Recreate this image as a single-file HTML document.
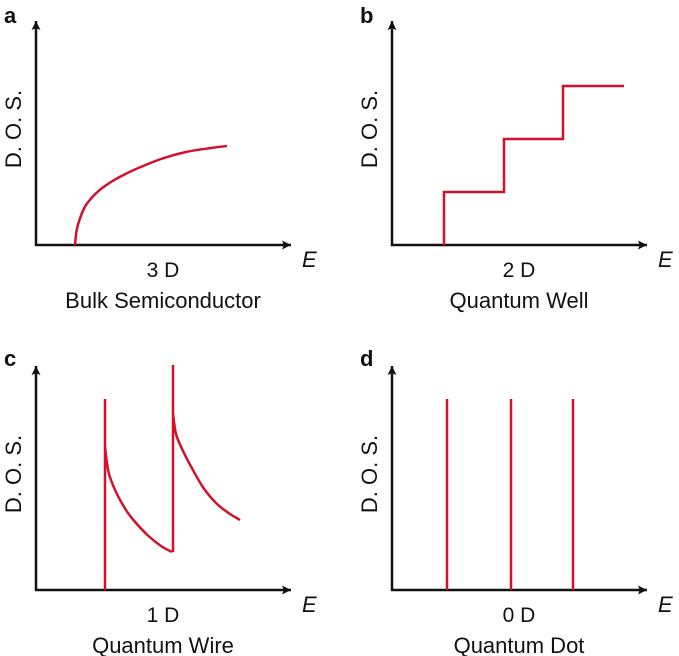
<!DOCTYPE html>
<html><head><meta charset="utf-8">
<style>
html,body{margin:0;padding:0;background:#fff;}
svg{display:block;}
text{font-family:"Liberation Sans",Arial,sans-serif;fill:#111;}
</style></head>
<body>
<svg id="fig" width="679" height="656" viewBox="0 0 679 656" xmlns="http://www.w3.org/2000/svg">
<defs>
<marker id="arr" viewBox="0 0 10 10" refX="10" refY="5" markerWidth="12" markerHeight="9" markerUnits="userSpaceOnUse" orient="auto">
<path d="M0,0 L10,5 L0,10 L2,5 Z" fill="#111"/>
</marker>
</defs>
</svg>
<script>
// Data (E in arbitrary units, DOS in arbitrary units)
const bulkE   = [1.56, 1.62, 1.75, 2.0, 2.5, 3.0, 3.5, 4.0, 5.0, 6.0, 7.0, 7.64];
const bulkDOS = [0, 0.7, 1.3, 2.0, 2.7, 3.15, 3.5, 3.8, 4.3, 4.65, 4.85, 4.95];
const wellEdges  = [2.08, 4.48, 6.84, 9.28];
const wellLevels = [2.65, 5.3, 7.95];
const wireOnsets = [2.76, 5.48];
const wirePeaks  = [9.55, 11.25];
const wire1E   = [2.76, 2.9, 3.2, 3.6, 4.0, 4.5, 5.0, 5.44];
const wire1DOS = [7.2, 5.9, 4.9, 4.0, 3.35, 2.7, 2.2, 1.9];
const wire2E   = [5.48, 5.6, 5.9, 6.3, 6.7, 7.2, 7.7, 8.16];
const wire2DOS = [8.85, 7.8, 6.9, 5.95, 5.1, 4.35, 3.85, 3.5];
const dotE   = [2.2, 4.76, 7.24];
const dotDOS = [9.55, 9.55, 9.55];

const NS = "http://www.w3.org/2000/svg";
const svg = document.getElementById('fig');
const RED = "#d3112b";
const SX = 25, SY = 20;
function mk(tag, attrs){const e=document.createElementNS(NS,tag);for(const k in attrs)e.setAttribute(k,attrs[k]);svg.appendChild(e);return e;}
function xs(p,E){return p.ox + E*SX;}
function ys(p,D){return p.oy - D*SY;}

const panels = [
 {ox:36, oy:245, letter:"a", lx:4, ly:23, dim:"3 D", title:"Bulk Semiconductor", name:"bulk"},
 {ox:392, oy:245, letter:"b", lx:360, ly:23, dim:"2 D", title:"Quantum Well", name:"well"},
 {ox:36, oy:590, letter:"c", lx:4, ly:366, dim:"1 D", title:"Quantum Wire", name:"wire"},
 {ox:392, oy:590, letter:"d", lx:360, ly:366, dim:"0 D", title:"Quantum Dot", name:"dot"}
];

panels.forEach(p=>{
  let el;
  el = mk('text',{x:p.lx,y:p.ly,'font-size':22,'font-weight':'bold'}); el.textContent=p.letter;
  
  
  el = mk('line',{x1:p.ox,y1:p.oy+1,x2:p.ox,y2:p.oy-224,stroke:'#111','stroke-width':2.5,'marker-end':'url(#arr)'});
  
  
  el = mk('line',{x1:p.ox-1,y1:p.oy,x2:p.ox+255,y2:p.oy,stroke:'#111','stroke-width':2.5,'marker-end':'url(#arr)'});
  
  
  const cy = p.oy-116, cx = p.ox-21;
  el = mk('text',{x:cx,y:cy,'font-size':22,'text-anchor':'middle',transform:`rotate(-90 ${cx} ${cy})`,'dominant-baseline':'middle'}); el.textContent="D. O. S.";
  
  
  el = mk('text',{x:p.ox+266,y:p.oy+22,'font-size':22,'font-style':'italic'}); el.textContent="E";
  
  
  el = mk('text',{x:p.ox+127,y:p.oy+32,'font-size':21,'text-anchor':'middle'}); el.textContent=p.dim;
  
  
  el = mk('text',{x:p.ox+127,y:p.oy+63,'font-size':22,'text-anchor':'middle'}); el.textContent=p.title;
  
  
});

function pts(p,Es,Ds){return Es.map((E,i)=>[xs(p,E),ys(p,Ds[i])]);}
function smooth(P){
  let d='M'+P[0][0].toFixed(1)+','+P[0][1].toFixed(1);
  for(let i=0;i<P.length-1;i++){
    const p0=P[i-1]||P[i], p1=P[i], p2=P[i+1], p3=P[i+2]||P[i+1];
    const c1=[p1[0]+(p2[0]-p0[0])/6, p1[1]+(p2[1]-p0[1])/6];
    const c2=[p2[0]-(p3[0]-p1[0])/6, p2[1]-(p3[1]-p1[1])/6];
    d+=` C${c1[0].toFixed(1)},${c1[1].toFixed(1)} ${c2[0].toFixed(1)},${c2[1].toFixed(1)} ${p2[0].toFixed(1)},${p2[1].toFixed(1)}`;
  }
  return d;
}
function straight(P){return 'M'+P.map(q=>q[0].toFixed(1)+','+q[1].toFixed(1)).join(' L');}
let c;
// a
const pa=panels[0];
c = mk('path',{d:smooth(pts(pa,bulkE,bulkDOS)),fill:'none',stroke:RED,'stroke-width':2.5});


// b
const pb=panels[1];
{
  const E=[wellEdges[0]], D=[0];
  wellLevels.forEach((L,i)=>{E.push(wellEdges[i]);D.push(L);E.push(wellEdges[i+1]);D.push(L);});
  c = mk('path',{d:straight(pts(pb,E,D)),fill:'none',stroke:RED,'stroke-width':2.5});
  
  
}
// c
const pc=panels[2];
{
  const s1 = pts(pc,[wireOnsets[0],wireOnsets[0]],[0,wirePeaks[0]]);
  const d1 = smooth(pts(pc,wire1E,wire1DOS));
  const last1 = wire1DOS[wire1DOS.length-1];
  const s2 = pts(pc,[wireOnsets[1],wireOnsets[1]],[last1,wirePeaks[1]]);
  const d2 = smooth(pts(pc,wire2E,wire2DOS));
  const d = straight(s1)+' '+d1+' '+straight(s2)+' '+d2;
  c = mk('path',{d:d,fill:'none',stroke:RED,'stroke-width':2.5,'stroke-linejoin':'round'});
  
  
}
// d
const pd=panels[3];
dotE.forEach((e,i)=>{
  const l = mk('line',{x1:xs(pd,e),y1:ys(pd,0),x2:xs(pd,e),y2:ys(pd,dotDOS[i]),stroke:RED,'stroke-width':2.5});
  
  
});
</script>
</body></html>
